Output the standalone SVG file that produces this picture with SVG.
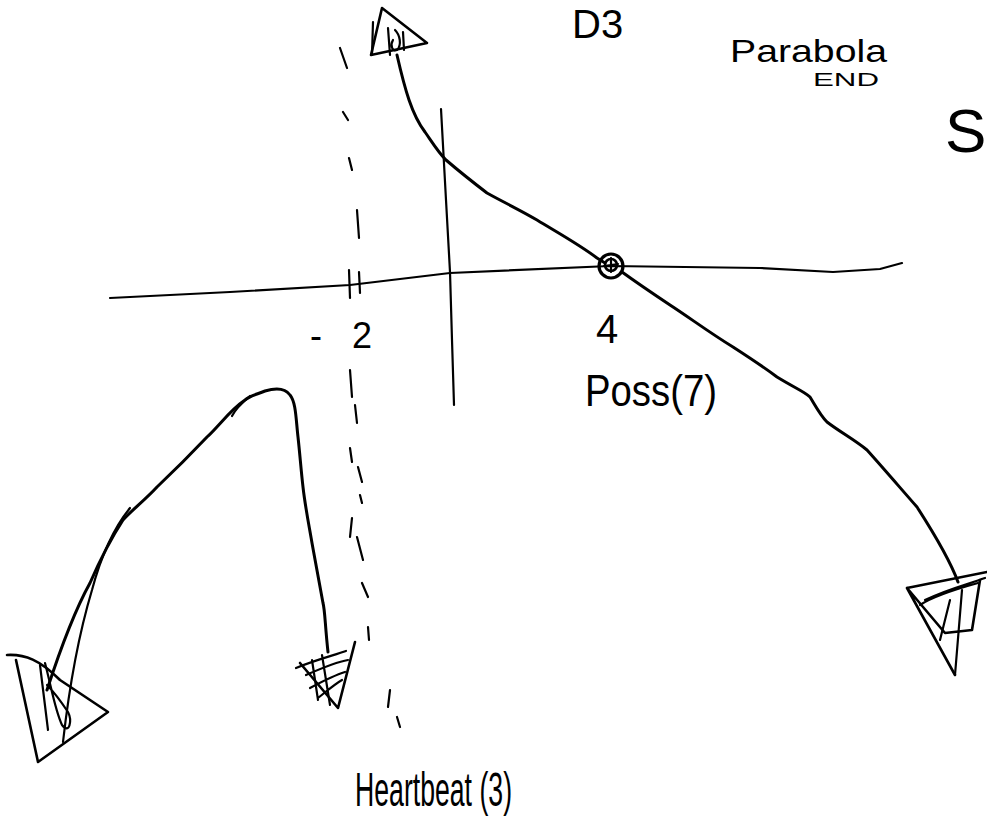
<svg xmlns="http://www.w3.org/2000/svg" width="987" height="823" viewBox="0 0 987 823">
<style>
.ln{fill:none;stroke:#000;stroke-linecap:round;stroke-linejoin:round}
.ax{stroke-width:2.2}
.cv{stroke-width:3}
.ah{fill:none;stroke:#000;stroke-width:2.6;stroke-linejoin:round;stroke-linecap:round}
.sc{fill:none;stroke:#000;stroke-width:2.2;stroke-linecap:round}
.ds{fill:none;stroke:#000;stroke-width:2.2;stroke-linecap:round}
.t{font-family:"Liberation Sans","DejaVu Sans",sans-serif;fill:#000;font-weight:normal}
</style>
<rect width="987" height="823" fill="#fff"/>
<g id="connectors">
  <path class="ln ax" d="M110,298 L230,292 L350,285 L450,273 L610,266 L760,268 L833,272 L880,269 L902,263"/>
  <path class="ln ax" d="M441,109 L446,200 L450,272 L452,340 L454,405"/>
  <path class="ln ax" d="M349,270 L350,298 M359,272 L360,293"/>
  <g id="asymptote">
    <path class="ds" d="M340,48 L347,68 M343,112 L348,120 M349,158 L352,170 M357,210 L359,238 M350,370 L352,397 M355,405 L357,423 M350,448 L352,462 M358,467 L362,482 M360,495 L362,503 M352,518 L350,537 M357,537 L363,560 M362,583 L368,597 M368,627 L369,640 M390,690 L388,707 M397,717 L400,727"/>
  </g>
  <path id="curve-main" class="ln cv" d="M397,55 C405,90 412,115 425,132 C432,142 438,152 446,160 C460,172 470,180 487,193 C505,203 520,210 537,220 C560,234 580,245 597,258 L605,263 M622,272 C640,285 655,295 670,305 C690,318 710,333 733,347 C750,358 765,368 777,377 C795,388 805,392 810,397 C815,405 820,415 827,422 C840,432 855,440 867,450 C885,470 902,490 917,507 C935,535 950,560 958,582"/>
  <g id="arrow-top">
    <path class="ah" d="M382,8 L427,43 L371,55 Z"/>
    <path class="sc" d="M373,22 L372,55 M388,28 L390,55 M395,30 C400,35 402,45 397,50 C392,52 390,45 393,40 M403,32 L404,50"/>
  </g>
  <g id="arrow-right">
    <path class="ah" d="M907,588 L955,675 M907,588 L987,572 M907,588 L945,633 L972,630 L980,580"/>
    <path class="sc" d="M920,605 C935,595 960,588 978,583 M925,600 C945,590 965,585 985,578 M950,600 L940,640 M962,590 L955,675"/>
  </g>
  <path id="curve-left" class="ln cv" d="M328,652 C325,625 325,610 323,603 C318,575 315,560 312,543 C308,520 305,505 303,487 C301,470 300,455 298,437 C296,420 296,402 290,395 C285,388 275,388 265,391 C255,395 250,396 245,400 C230,410 220,425 207,437 C190,455 175,470 157,487 C145,500 132,510 123,520 C110,540 100,560 90,583 C75,610 60,650 47,690"/>
  <path class="ln" stroke-width="2.2" d="M130,508 C112,530 100,560 92,590 C80,630 70,680 63,742 M250,396 C243,402 236,408 232,416"/>
  <g id="arrow-mid">
    <path class="ah" d="M355,642 L338,708 L300,663"/>
    <path class="sc" d="M296,668 C315,660 335,655 346,651 M306,675 C322,668 336,662 348,660 M310,688 C325,680 335,675 345,672 M318,698 C328,690 335,684 342,680 M312,660 L318,700 M322,655 L330,705"/>
  </g>
  <g id="arrow-left">
    <path class="ah" d="M7,655 C25,654 40,660 60,680 L108,712 L38,762 L16,660"/>
    <path class="sc" d="M40,665 L48,730 M45,663 C52,690 55,710 62,725 C70,735 72,720 68,712 C60,700 52,690 47,685"/>
  </g>
</g>
<g id="node-point">
  <circle cx="611" cy="266" r="12" fill="none" stroke="#000" stroke-width="3.2"/>
  <circle cx="611" cy="265" r="6" fill="none" stroke="#000" stroke-width="2.6"/>
  <path class="sc" d="M604,266 L618,264 M611,258 L611,272"/>
</g>
<g id="label-d3"><text class="t" x="572" y="38" font-size="40">D3</text></g>
<g id="label-parabola"><text class="t" x="730" y="62" font-size="32" textLength="157" lengthAdjust="spacingAndGlyphs">Parabola</text></g>
<g id="label-end"><text class="t" x="813" y="86" font-size="19" textLength="66" lengthAdjust="spacingAndGlyphs">END</text></g>
<g id="label-s"><text class="t" x="945" y="152" font-size="62">S</text></g>
<g id="label-minus2"><text class="t" x="310" y="348" font-size="36">-<tspan x="352">2</tspan></text></g>
<g id="label-4"><text class="t" x="596" y="343" font-size="40">4</text></g>
<g id="label-poss"><text class="t" x="585" y="406" font-size="44" textLength="132" lengthAdjust="spacingAndGlyphs">Poss(7)</text></g>
<g id="label-heartbeat"><text class="t" x="355" y="806" font-size="48" textLength="157" lengthAdjust="spacingAndGlyphs">Heartbeat (3)</text></g>
</svg>
